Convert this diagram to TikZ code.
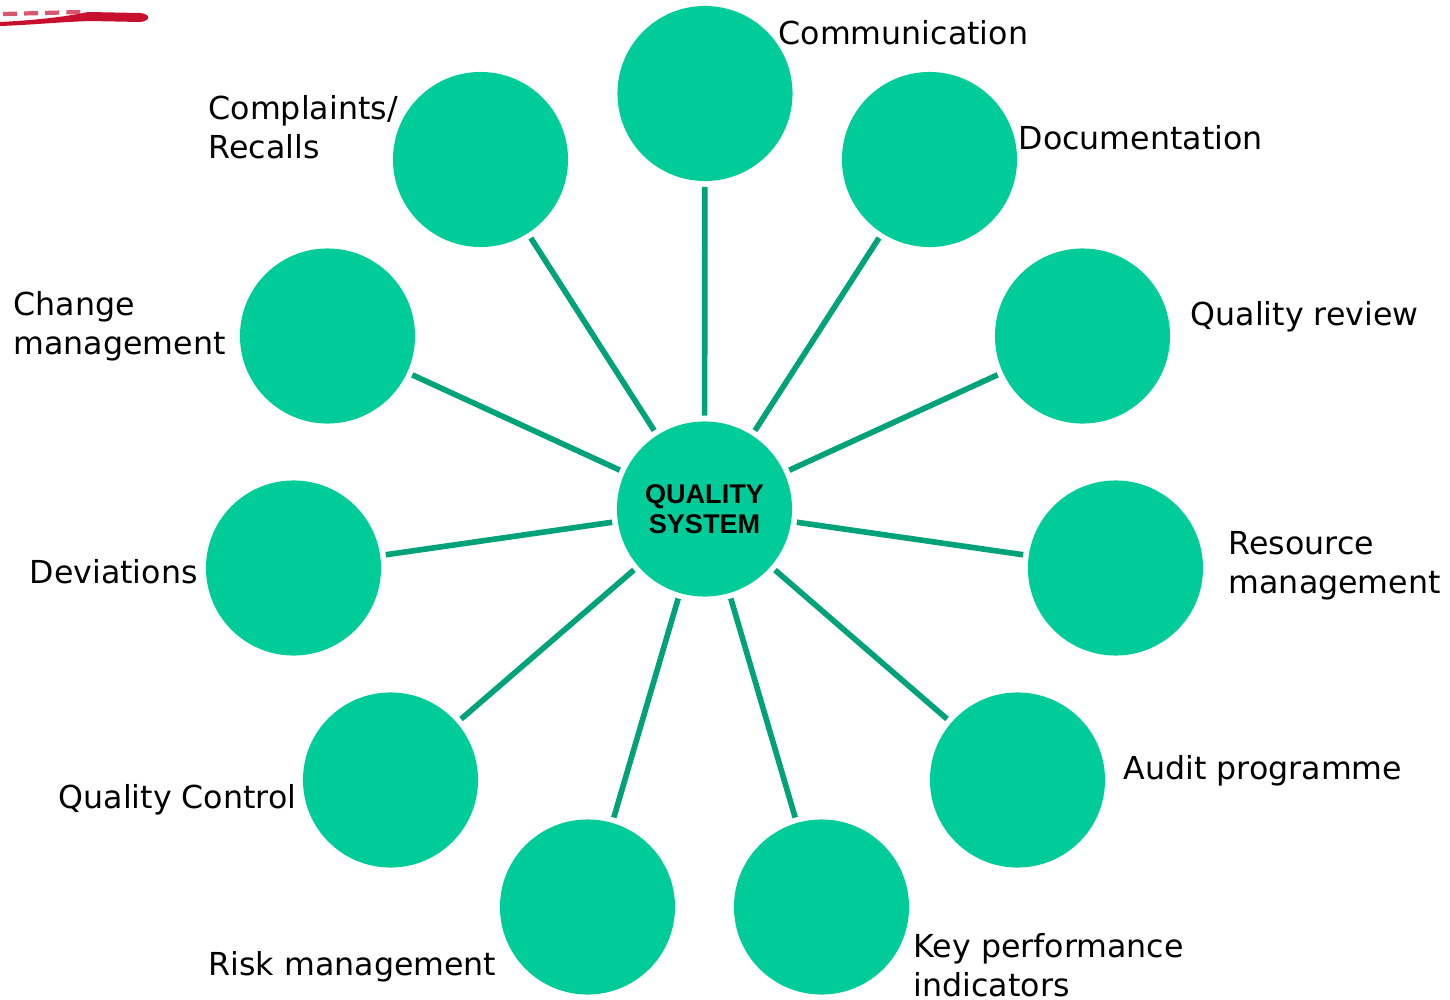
\documentclass[tikz,border=0pt]{standalone}
\usepackage{fontspec}
\setmainfont{DejaVu Sans}
\newfontfamily\arialbold{Liberation Sans}[BoldFont={Liberation Sans Bold}]
\definecolor{qsgreen}{HTML}{00CC99}
\definecolor{qsline}{HTML}{00A27A}
\definecolor{qsred}{HTML}{C8102E}
\begin{document}
\begin{tikzpicture}[x=0.01cm, y=-0.01cm]
 \tikzstyle{topic} = [circle, fill=qsgreen, draw=none, minimum size=1.75cm, inner sep=0pt];
 \tikzstyle{spoke} = [draw=qsline, line width=1.6pt, shorten <=0.05cm, shorten >=0.05cm];
 \tikzstyle{lbl} = [anchor=west, align=left, font=\fontsize{9}{11}\selectfont, inner sep=0pt];
 \useasboundingbox (0,0) rectangle (1450,1000);

% red brush stroke in the corner
\fill [qsred] (0,22) .. controls (40,20) and (70,16) .. (88,12) -- (140,13) .. controls (151,14) and (151,21) .. (140,22) -- (90,21) .. controls (60,22) and (30,25) .. (0,26) -- cycle;
\draw [qsred, line width=1.2pt, dash pattern=on 4pt off 2pt, opacity=0.7] (3,14) -- (82,12);

\node [topic] (v0) at (704.5,509) {};
\node [font=\arialbold\bfseries\fontsize{7.7}{8.6}\selectfont, align=center] at (v0) {QUALITY\\SYSTEM};

\node [topic] (v1) at (705,93.5) {};
\node [topic] (v2) at (929.5,159.5) {};
\node [topic] (v3) at (1082.5,336) {};
\node [topic] (v4) at (1115.5,568) {};
\node [topic] (v5) at (1017.5,780) {};
\node [topic] (v6) at (821.5,907) {};
\node [topic] (v7) at (587.5,907) {};
\node [topic] (v8) at (390.5,780) {};
\node [topic] (v9) at (293.5,568) {};
\node [topic] (v10) at (327.5,336) {};
\node [topic] (v11) at (480.5,159.5) {};

\foreach \i in {1,...,11}
  \draw [spoke] (v0) -- (v\i);

\node [lbl] at (778,33) {Communication};
\node [lbl] at (1018,138) {Documentation};
\node [lbl] at (1190,317) {Quality review};
\node [lbl] at (1228,566) {Resource\\management};
\node [lbl] at (1123,771) {Audit programme};
\node [lbl] at (913,965) {Key performance\\indicators};
\node [lbl] at (208,967) {Risk management};
\node [lbl] at (58,800) {Quality Control};
\node [lbl] at (29,572) {Deviations};
\node [lbl] at (13,326) {Change\\management};
\node [lbl] at (208,127) {Complaints/\\Recalls};

\end{tikzpicture}
\end{document}
